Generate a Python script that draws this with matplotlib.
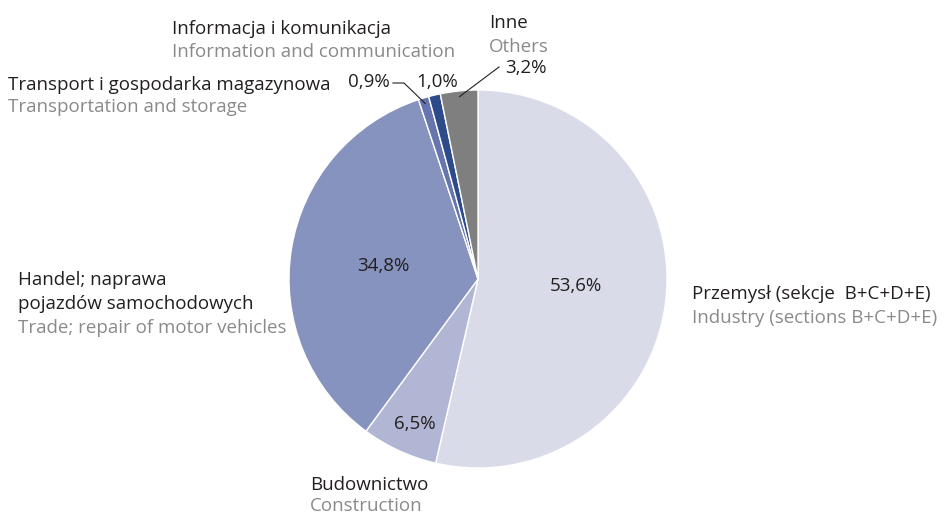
import numpy as np
import matplotlib.pyplot as plt

# udział sektorów (%)
sektory_pl = ["Przemysł (sekcje  B+C+D+E)", "Budownictwo", "Handel; naprawa\npojazdów samochodowych",
              "Transport i gospodarka magazynowa", "Informacja i komunikacja", "Inne"]
sektory_en = ["Industry (sections B+C+D+E)", "Construction", "Trade; repair of motor vehicles",
              "Transportation and storage", "Information and communication", "Others"]
udzial = [53.6, 6.5, 34.8, 0.9, 1.0, 3.2]
kolory = ["#d9dbe9", "#b1b6d4", "#8793bf", "#6675ad", "#2d4a8a", "#7f7f7f"]

W, H = 948, 516
CIEMNY = "#231f20"
SZARY = "#8a8a8a"
plt.rcParams["font.family"] = ["Open Sans", "DejaVu Sans"]

fig = plt.figure(figsize=(W / 100, H / 100), dpi=100)
cx, cy, r = 478, 279, 189
ax = fig.add_axes([(cx - r) / W, (H - cy - r) / H, 2 * r / W, 2 * r / H])
wedges, _ = ax.pie(udzial, colors=kolory, startangle=90, counterclock=False,
                   wedgeprops=dict(edgecolor="white", linewidth=1.0))
ax.set_xlim(-1, 1)
ax.set_ylim(-1, 1)
ax.set_aspect("equal")
ax.axis("off")


def fmt(v):
    return f"{v:.1f}".replace(".", ",") + "%"


def px(x, y):
    return x / W, 1 - y / H


def napis(x, y, s, kolor=CIEMNY, **kw):
    # y = linia bazowa tekstu w pikselach od góry
    fig.text(*px(x, y), s, color=kolor, fontsize=13.5, va="baseline", **kw)


def kat_srodka(i):
    przed = sum(udzial[:i])
    return np.deg2rad(90 - (przed + udzial[i] / 2) * 3.6)


def punkt(i, rr=0.97):
    a = kat_srodka(i)
    return cx + r * rr * np.cos(a), cy - r * rr * np.sin(a)


# wartości wewnątrz wycinków
napis(576, 291, fmt(udzial[0]), ha="center")
napis(415, 429, fmt(udzial[1]), ha="center")
napis(383, 271, fmt(udzial[2]), ha="center")

# podpisy kategorii
napis(692, 299, sektory_pl[0])
napis(692, 323, sektory_en[0], SZARY)
napis(310, 490, sektory_pl[1])
napis(310, 511, sektory_en[1], SZARY)
napis(18, 285, sektory_pl[2].split("\n")[0])
napis(18, 309, sektory_pl[2].split("\n")[1])
napis(18, 333, sektory_en[2], SZARY)
napis(8, 90, sektory_pl[3])
napis(8, 112, sektory_en[3], SZARY)
napis(172, 34, sektory_pl[4])
napis(172, 57, sektory_en[4], SZARY)
napis(489, 28, sektory_pl[5])
napis(489, 52, sektory_en[5], SZARY)

# wartości małych wycinków z liniami odniesienia
napis(390, 87, fmt(udzial[3]), ha="right")
napis(437, 87, fmt(udzial[4]), ha="center")
napis(505, 73, fmt(udzial[5]))

x3, y3 = punkt(3)
fig.add_artist(plt.Line2D([393 / W, 404 / W, x3 / W], [1 - 83 / H, 1 - 83 / H, 1 - y3 / H],
                          color=CIEMNY, linewidth=0.8))
x5, y5 = punkt(5)
fig.add_artist(plt.Line2D([x5 / W, 499 / W], [1 - y5 / H, 1 - 67 / H],
                          color=CIEMNY, linewidth=0.8))

fig.savefig("out.png", dpi=100)
